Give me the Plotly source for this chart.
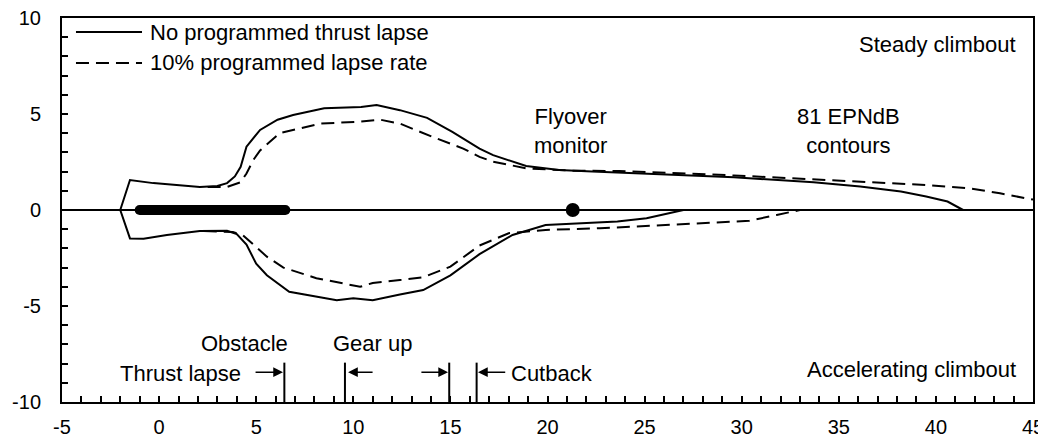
import plotly.graph_objects as go

# ---------------- data ----------------
solid_upper_x = [-2, -1.5, -0.3, 1.1, 2.1, 3.0, 3.5, 3.9, 4.2, 4.5, 5.2, 6.1, 6.9, 8.5, 10.4, 11.2,
                 12.4, 13.8, 15.1, 16.5, 17.2, 18.9, 20.6, 22.3, 24.8, 29.6, 33.7, 36.1, 38.2, 39.5, 40.6, 41.4]
solid_upper_y = [0, 1.56, 1.4, 1.3, 1.2, 1.25, 1.4, 1.75, 2.25, 3.3, 4.17, 4.7, 4.95, 5.3, 5.36, 5.47,
                 5.2, 4.8, 4.07, 3.2, 2.86, 2.29, 2.08, 2.0, 1.9, 1.7, 1.45, 1.22, 0.96, 0.7, 0.44, 0]

solid_lower_x = [-2, -1.5, -0.8, 0.4, 2.1, 3.5, 4.0, 4.5, 5.0, 5.55, 6.7, 8.1, 9.15, 10.0, 11.0,
                 12.4, 13.6, 15.0, 16.5, 18.2, 19.9, 23.6, 25.1, 27.0]
solid_lower_y = [0, -1.48, -1.5, -1.3, -1.1, -1.08, -1.25, -1.8, -2.8, -3.4, -4.26, -4.5, -4.7, -4.6, -4.7,
                 -4.4, -4.17, -3.4, -2.3, -1.3, -0.78, -0.6, -0.43, 0]

dashed_upper_x = [2.5, 3.5, 4.2, 4.5, 4.85, 5.2, 6.2, 7.25, 8.3, 10.35, 11.4, 12.4, 14.1, 15.66, 16.5,
                  17.2, 18.9, 21.2, 23.7, 29.6, 33.7, 36.1, 39.5, 41.75, 43.3, 45.0]
dashed_upper_y = [1.2, 1.2, 1.45, 1.9, 2.6, 3.1, 4.0, 4.27, 4.5, 4.6, 4.7, 4.5, 3.8, 3.2, 2.77,
                  2.52, 2.17, 2.05, 2.03, 1.8, 1.6, 1.47, 1.3, 1.13, 0.87, 0.54]

dashed_lower_x = [2.3, 3.8, 4.3, 4.85, 5.55, 6.4, 8.1, 10.35, 11.0, 12.4, 13.6, 15.0, 16.5, 18.0, 19.9,
                  22.7, 24.9, 27.8, 30.4, 31.8, 32.65, 33.0]
dashed_lower_y = [-1.1, -1.15, -1.3, -1.8, -2.43, -3.0, -3.55, -4.0, -3.8, -3.65, -3.5, -2.95, -1.85, -1.21, -1.04,
                  -0.95, -0.83, -0.69, -0.56, -0.26, -0.09, 0]

runway_x = [-1, 6.5]
runway_y = [0, 0]
monitor_x = [21.3]
monitor_y = [0]

event_x = [6.45, 9.57, 14.94, 16.35]      # thrust lapse/obstacle, gear up start, gear up end, cutback
event_y = [-7.95, -10]

arrow_head_x = [6.38, 9.73, 14.88, 16.42]
arrow_tail_x = [4.89, 11.07, 13.43, 17.9]
arrow_y = -8.45

legend_labels = ["No programmed thrust lapse", "10% programmed lapse rate"]

x_ticks = [-5, 0, 5, 10, 15, 20, 25, 30, 35, 40, 45]
x_tick_labels = ["-5", "0", "5", "10", "15", "20", "25", "30", "35", "40", "45"]
y_ticks = [-10, -5, 0, 5, 10]
y_tick_labels = ["-10", "-5", "0", "5", "10"]

# ---------------- style ----------------
FONT = "Arial, Liberation Sans, sans-serif"
TXT = 22
DASH = "13px,7px"

fig = go.Figure()

for xs, ys, dash in [(solid_upper_x, solid_upper_y, "solid"), (solid_lower_x, solid_lower_y, "solid"),
                     (dashed_upper_x, dashed_upper_y, DASH), (dashed_lower_x, dashed_lower_y, DASH)]:
    fig.add_trace(go.Scatter(x=xs, y=ys, mode="lines", line=dict(color="black", width=2, dash=dash),
                             showlegend=False, hoverinfo="skip"))

# runway bar with round ends
fig.add_trace(go.Scatter(x=runway_x, y=runway_y, mode="lines+markers",
                         line=dict(color="black", width=10),
                         marker=dict(color="black", size=10), showlegend=False, hoverinfo="skip"))
# flyover monitor
fig.add_trace(go.Scatter(x=monitor_x, y=monitor_y, mode="markers",
                         marker=dict(color="black", size=14), showlegend=False, hoverinfo="skip"))

shapes = []
for ex in event_x:
    shapes.append(dict(type="line", xref="x", yref="y", x0=ex, x1=ex, y0=event_y[0], y1=event_y[1],
                       line=dict(color="black", width=2)))

# legend (manual)
legend_rows = [(9.27, "solid"), (7.66, DASH)]
annotations = []
for (ly, dash), label in zip(legend_rows, legend_labels):
    shapes.append(dict(type="line", xref="x", yref="y", x0=-4.28, x1=-0.88, y0=ly, y1=ly,
                       line=dict(color="black", width=2, dash=dash)))
    annotations.append(dict(x=-0.57, y=ly, xref="x", yref="y", text=label, showarrow=False,
                            xanchor="left", yanchor="middle", font=dict(size=TXT)))

for hx, tx in zip(arrow_head_x, arrow_tail_x):
    annotations.append(dict(x=hx, y=arrow_y, ax=tx, ay=arrow_y, xref="x", yref="y", axref="x", ayref="y",
                            text="", showarrow=True, arrowhead=2, arrowsize=1.3, arrowwidth=1.5,
                            arrowcolor="black"))

texts = [
    dict(x=44.23, y=8.6, text="Steady climbout", xanchor="right"),
    dict(x=44.23, y=-8.33, text="Accelerating climbout", xanchor="right"),
    dict(x=21.16, y=4.14, text="Flyover<br>monitor", xanchor="center"),
    dict(x=35.5, y=4.14, text="81 EPNdB<br>contours", xanchor="center"),
    dict(x=4.42, y=-6.93, text="Obstacle", xanchor="center"),
    dict(x=11.03, y=-6.93, text="Gear up", xanchor="center"),
    dict(x=4.32, y=-8.49, text="Thrust lapse", xanchor="right"),
    dict(x=18.02, y=-8.49, text="Cutback", xanchor="left"),
]
for t in texts:
    annotations.append(dict(x=t["x"], y=t["y"], xref="x", yref="y", text=t["text"], showarrow=False,
                            xanchor=t["xanchor"], yanchor="middle", font=dict(size=TXT)))

axis_common = dict(showgrid=False, showline=True, linecolor="black", linewidth=2, mirror=True,
                   ticks="inside", ticklen=6, tickwidth=1.5, tickcolor="black", automargin=False,
                   tickfont=dict(size=20, color="black"), tickmode="array", ticklabeloverflow="allow")

fig.update_xaxes(range=[-5, 45], tickvals=x_ticks, ticktext=x_tick_labels, ticklabelstandoff=6, zeroline=False,
                 minor=dict(ticks="inside", ticklen=6, tickwidth=1.5, tickcolor="black",
                            tickmode="linear", tick0=-5, dtick=1, showgrid=False),
                 **axis_common)
fig.update_yaxes(range=[-10, 10], tickvals=y_ticks, ticktext=y_tick_labels, ticklabelstandoff=15,
                 zeroline=True, zerolinecolor="black", zerolinewidth=2,
                 minor=dict(ticks="inside", ticklen=6, tickwidth=1.5, tickcolor="black",
                            tickmode="linear", tick0=-10, dtick=1, showgrid=False),
                 **axis_common)

# the page body adds an 8px margin, so the figure is sized/margined to compensate
fig.update_layout(
    width=1038, height=430,
    margin=dict(l=54, r=13, t=10, b=36, pad=0, autoexpand=False),
    paper_bgcolor="white", plot_bgcolor="white",
    font=dict(family=FONT, color="black"),
    shapes=shapes, annotations=annotations,
    showlegend=False,
)

fig.write_html("out.html")
